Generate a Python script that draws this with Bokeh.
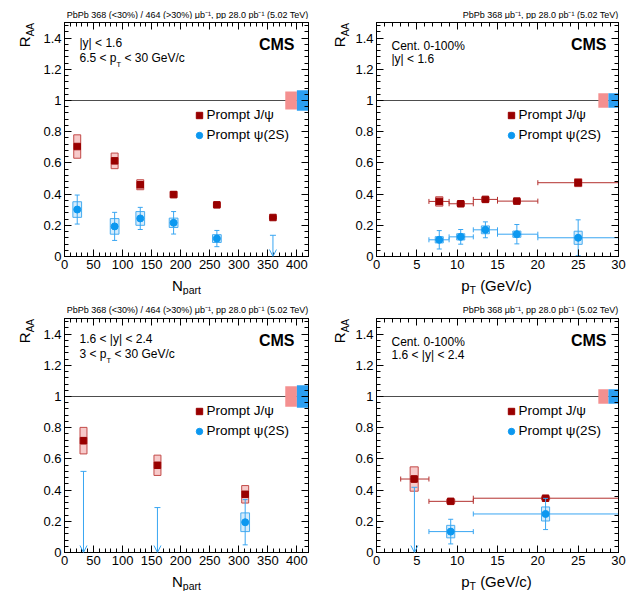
import numpy as np
from bokeh.plotting import figure
from bokeh.layouts import column, row
from bokeh.models import (ColumnDataSource, FixedTicker, LinearAxis, Range1d, Span, Label,
                          Arrow, OpenHead, TeeHead, Legend, LegendItem, CustomJSTickFormatter)
from bokeh.embed import file_html
from bokeh.resources import INLINE

# Nuclear modification factor R_AA of prompt J/psi and psi(2S), PbPb vs pp at 5.02 TeV

# ---- |y| < 1.6, 6.5 < pT < 30 GeV/c, versus Npart ----
mid_npart = [21.9, 86.3, 130.4, 187.8, 262.3, 358.8]
mid_jpsi_raa = [0.705, 0.613, 0.460, 0.397, 0.331, 0.250]
mid_jpsi_stat = [0.012, 0.010, 0.008, 0.006, 0.005, 0.004]
mid_jpsi_syst = [0.075, 0.050, 0.032, 0.020, 0.015, 0.010]
mid_psi_npart = [21.9, 86.3, 130.4, 187.8, 262.3]
mid_psi_raa = [0.301, 0.193, 0.244, 0.216, 0.115]
mid_psi_stat = [0.093, 0.090, 0.071, 0.072, 0.052]
mid_psi_syst = [0.050, 0.050, 0.044, 0.030, 0.025]
mid_psi_ul_npart = [358.8]
mid_psi_ul = [0.136]
mid_global = [0.057, 0.065]          # J/psi, psi(2S)

# ---- Cent. 0-100%, |y| < 1.6, versus pT ----
mid_pt_lo = [6.5, 9.0, 12.0, 15.0, 20.0]
mid_pt_hi = [9.0, 12.0, 15.0, 20.0, 30.0]
mid_pt = [7.78, 10.44, 13.5, 17.4, 25.0]
mid_pt_jpsi_raa = [0.353, 0.338, 0.366, 0.355, 0.473]
mid_pt_jpsi_stat = [0.006, 0.005, 0.005, 0.006, 0.012]
mid_pt_jpsi_syst = [0.030, 0.015, 0.015, 0.012, 0.025]
mid_pt_psi_raa = [0.107, 0.126, 0.171, 0.143, 0.120]
mid_pt_psi_stat = [0.059, 0.047, 0.051, 0.062, 0.115]
mid_pt_psi_syst = [0.020, 0.020, 0.025, 0.020, 0.042]
mid_pt_global = [0.046, 0.046]

# ---- 1.6 < |y| < 2.4, 3 < pT < 30 GeV/c, versus Npart ----
fwd_npart = [32.7, 160.0, 311.0]
fwd_jpsi_raa = [0.717, 0.559, 0.373]
fwd_jpsi_stat = [0.020, 0.018, 0.015]
fwd_jpsi_syst = [0.085, 0.065, 0.056]
fwd_psi_npart = [311.0]
fwd_psi_raa = [0.194]
fwd_psi_stat = [0.145]
fwd_psi_syst = [0.060]
fwd_psi_ul_npart = [32.7, 160.0]
fwd_psi_ul = [0.520, 0.288]
fwd_global = [0.065, 0.072]

# ---- Cent. 0-100%, 1.6 < |y| < 2.4, versus pT ----
fwd_pt_lo = [3.0, 6.5, 12.0]
fwd_pt_hi = [6.5, 12.0, 30.0]
fwd_pt = [4.67, 9.2, 20.96]
fwd_pt_jpsi_raa = [0.471, 0.328, 0.348]
fwd_pt_jpsi_stat = [0.020, 0.008, 0.008]
fwd_pt_jpsi_syst = [0.078, 0.013, 0.010]
fwd_pt_psi_lo = [6.5, 12.0]
fwd_pt_psi_hi = [12.0, 30.0]
fwd_pt_psi = [9.2, 20.96]
fwd_pt_psi_raa = [0.134, 0.247]
fwd_pt_psi_stat = [0.079, 0.100]
fwd_pt_psi_syst = [0.040, 0.045]
fwd_pt_psi_ul_pt = [4.7]
fwd_pt_psi_ul = [0.418]
fwd_pt_global = [0.047, 0.047]

LUMI_CENT = "PbPb 368 (<30%) / 464 (>30%) \u03bcb\u207b\u00b9, pp 28.0 pb\u207b\u00b9 (5.02 TeV)"
LUMI_PT = "PbPb 368 \u03bcb\u207b\u00b9, pp 28.0 pb\u207b\u00b9 (5.02 TeV)"

# ---- style ----
FONT = "Liberation Sans"
JPSI = "#990000"
JPSI_BAR = "#b3302e"
JPSI_BOX_FILL = "#f4b8b8"
JPSI_BOX_LINE = "#c24a48"
PSI = "#0c98f0"
PSI_BAR = "#39a6f2"
PSI_BOX_FILL = "#c7e5fb"
PSI_BOX_LINE = "#47acf0"
GLOB_RED = "#f49090"
GLOB_BLUE = "#2c9ff2"

ARIAL = {' ': 278, '.': 278, '<': 584, '>': 584, '|': 260, 'y': 500, 'p': 556, 'T': 611,
         'N': 722, 'a': 556, 'r': 333, 't': 278, 'R': 722, 'A': 667, '(': 333, ')': 333,
         'G': 778, 'e': 556, 'V': 667, '/': 278, 'c': 500}


def tw(s, size):
    return sum(ARIAL.get(ch, 556) for ch in s) * size / 1000.0


def text(p, x, y, s, size, bold=False, align="left", baseline="alphabetic", angle=0.0):
    p.add_layout(Label(x=x, y=y, x_units="screen", y_units="screen", text=s,
                       text_font=FONT, text_font_size=f"{size}px",
                       text_font_style="bold" if bold else "normal",
                       text_align=align, text_baseline=baseline, angle=angle,
                       text_color="black"))


def run(p, x, y, parts):
    """Draw a sequence of (string, size, dy, gap) pieces one after another."""
    for s, size, dy, gap in parts:
        x += gap
        text(p, x, y + dy, s, size)
        x += tw(s, size)


def strip(w, h, top=0, bottom=0):
    s = figure(width=w, height=h, x_range=Range1d(0, w), y_range=Range1d(0, h - top - bottom),
               output_backend="svg", toolbar_location=None,
               x_axis_location=None, y_axis_location=None,
               min_border_left=0, min_border_right=0, min_border_top=top, min_border_bottom=bottom,
               outline_line_color=None, background_fill_color="white", border_fill_color="white")
    s.grid.visible = False
    return s


Y_MAJOR = [0, 0.2, 0.4, 0.6, 0.8, 1, 1.2, 1.4]
Y_MINOR = [round(v, 3) for v in np.arange(0, 1.5001, 0.04)]


def make_panel(width, height, bl, br, bt, bb, xmax, xmajor, xminor):
    p = figure(width=width, height=height, x_range=Range1d(0, xmax), y_range=Range1d(0, 1.5),
               output_backend="svg", toolbar_location=None,
               min_border_left=bl, min_border_right=br, min_border_top=bt, min_border_bottom=bb,
               background_fill_color="white", border_fill_color="white",
               outline_line_color="black", outline_line_width=1)
    p.grid.visible = False
    bottom, left = p.below[0], p.left[0]
    top, right = LinearAxis(), LinearAxis()
    p.add_layout(top, "above")
    p.add_layout(right, "right")
    fmt = "return String(Math.round(tick*1000)/1000)"
    for ax in (bottom, top):
        ax.ticker = FixedTicker(ticks=xmajor, minor_ticks=xminor)
    for ax in (left, right):
        ax.ticker = FixedTicker(ticks=Y_MAJOR, minor_ticks=Y_MINOR)
    for ax in (bottom, top, left, right):
        ax.formatter = CustomJSTickFormatter(code=fmt)
        ax.axis_line_color = "black"
        ax.major_tick_line_color = "black"
        ax.minor_tick_line_color = "black"
        ax.major_tick_in = 7
        ax.major_tick_out = 0
        ax.minor_tick_in = 4
        ax.minor_tick_out = 0
        ax.major_label_text_font = FONT
        ax.major_label_text_font_size = "13px"
        ax.major_label_text_color = "black"
        ax.major_label_standoff = 3
    for ax in (top, right):
        ax.major_label_text_font_size = "0px"
        ax.major_label_standoff = 0
    p.add_layout(Span(location=1.0, dimension="width", line_color="#4d4d4d",
                      line_width=1, level="underlay"))
    return p


def global_boxes(p, x_edges, unc):
    src = ColumnDataSource(dict(l=x_edges[:-1], r=x_edges[1:],
                                b=[1 - u for u in unc], t=[1 + u for u in unc],
                                c=[GLOB_RED, GLOB_BLUE]))
    p.quad(left="l", right="r", bottom="b", top="t", fill_color="c", line_color=None, source=src)


def series(p, x, y, stat, syst, half, kind, xlo=None, xhi=None):
    if kind == "jpsi":
        mcol, bcol, bfill, bline, marker, msize = JPSI, JPSI_BAR, JPSI_BOX_FILL, JPSI_BOX_LINE, "square", 6.5
    else:
        mcol, bcol, bfill, bline, marker, msize = PSI, PSI_BAR, PSI_BOX_FILL, PSI_BOX_LINE, "circle", 7
    d = dict(x=x, y=y,
             l=[v - half for v in x], r=[v + half for v in x],
             b=[v - s for v, s in zip(y, syst)], t=[v + s for v, s in zip(y, syst)],
             lo=[v - s for v, s in zip(y, stat)], hi=[v + s for v, s in zip(y, stat)])
    if xlo is not None:
        d["xlo"] = xlo
        d["xhi"] = xhi
    src = ColumnDataSource(d)
    p.quad(left="l", right="r", bottom="b", top="t", source=src,
           fill_color=bfill, fill_alpha=0.75, line_color=bline, line_width=1)
    p.segment(x0="x", y0="lo", x1="x", y1="hi", source=src, line_color=bcol, line_width=1)
    p.scatter(x="x", y="lo", marker="dash", size=5, line_color=bcol, source=src)
    p.scatter(x="x", y="hi", marker="dash", size=5, line_color=bcol, source=src)
    if xlo is not None:
        p.segment(x0="xlo", y0="y", x1="xhi", y1="y", source=src, line_color=bcol, line_width=1)
        p.scatter(x="xlo", y="y", marker="dash", angle=np.pi / 2, size=5, line_color=bcol, source=src)
        p.scatter(x="xhi", y="y", marker="dash", angle=np.pi / 2, size=5, line_color=bcol, source=src)
    return p.scatter(x="x", y="y", marker=marker, size=msize, fill_color=mcol, line_color=mcol, source=src)


def upper_limits(p, x, ul):
    src = ColumnDataSource(dict(x=x, ul=ul, zero=[0.0] * len(x)))
    p.add_layout(Arrow(x_start="x", y_start="ul", x_end="x", y_end="zero", source=src,
                       line_color=PSI_BAR, line_width=1,
                       start=TeeHead(size=6, line_color=PSI_BAR, line_width=1),
                       end=OpenHead(size=7, line_color=PSI_BAR, line_width=1)))


def add_legend(p, r1, r2):
    leg = Legend(items=[LegendItem(label="Prompt J/\u03c8", renderers=[r1]),
                        LegendItem(label="Prompt \u03c8(2S)", renderers=[r2])],
                 location=(126.5, 111.3), glyph_width=16, glyph_height=20, label_height=20,
                 label_standoff=0, spacing=0, padding=0, margin=0,
                 border_line_alpha=0, background_fill_alpha=0,
                 label_text_font=FONT, label_text_font_size="13.5px", label_text_color="black")
    p.add_layout(leg)


FW, FH = 244, 234            # frame size of every panel
BT, BB = 3, 20               # top / bottom borders of the plot figures
NP_MAJOR = list(range(0, 401, 50))
NP_MINOR = list(range(0, 421, 10))
PT_MAJOR = list(range(0, 31, 5))
PT_MINOR = list(range(0, 31, 1))
NP_GLOBAL_X = [380, 400, 420]
PT_GLOBAL_X = [27.5, 28.75, 30.0]


def build_panel(pw, ph, top_h, left_w, frame_left, xmax, xmajor, xminor, lumi,
                info1, info2, info_y, xlabel):
    """Panel = title strip / (y-title strip | plot) / x-title strip."""
    main_h = BT + FH + BB
    bottom_h = ph - top_h - main_h
    main_w = pw - left_w
    p = make_panel(main_w, main_h, frame_left - left_w, main_w - (frame_left - left_w) - FW,
                   BT, BB, xmax, xmajor, xminor)

    # inside-frame texts
    text(p, 230, 212, "CMS", 16, bold=True, align="right", baseline="middle")
    text(p, 15, info_y[0], info1, 12)
    if isinstance(info2, tuple):
        a, b = info2
        run(p, 15, info_y[1], [(a, 12, 0, 0), ("T", 7.5, -7, 0), (b, 12, 0, tw(" ", 12))])
    else:
        text(p, 15, info_y[1], info2, 12)

    # luminosity line above the frame, right-aligned with the frame edge
    t = strip(pw, top_h)
    text(t, frame_left + FW, top_h - 14.5, lumi, 9, align="right")

    # R_AA, rotated, ending at the frame top (strip frame matches the plot frame)
    ls = strip(left_w, main_h, top=BT, bottom=BB)
    y_aa = FH - tw("AA", 10) - 0.5
    y_r = y_aa - tw("R", 15)
    text(ls, 32.5, y_r, "R", 15, baseline="bottom", angle=np.pi / 2)
    text(ls, 35.5, y_aa, "AA", 10, baseline="bottom", angle=np.pi / 2)

    # x-axis title with subscript, centred under the frame
    bs = strip(pw, bottom_h)
    a, sub, b = xlabel
    gap = tw(" ", 15) if b else 0
    total = tw(a, 15) + tw(sub, 10.5) + gap + tw(b, 15)
    x0 = frame_left + FW / 2 - total / 2
    run(bs, x0, bottom_h - 9, [(a, 15, 0, 0), (sub, 10.5, -4.5, 0)] + ([(b, 15, 0, gap)] if b else []))

    return p, column(t, row(ls, p), bs)


# top-left: centrality dependence, |y| < 1.6
p1, l1 = build_panel(315, 295, 19, 38, 64, 420, NP_MAJOR, NP_MINOR, LUMI_CENT,
                     "|y| < 1.6", ("6.5 < p", "< 30 GeV/c"), (213.7, 198.7), ("N", "part", ""))
global_boxes(p1, NP_GLOBAL_X, mid_global)
ra = series(p1, mid_npart, mid_jpsi_raa, mid_jpsi_stat, mid_jpsi_syst, 6.0, "jpsi")
rb = series(p1, mid_psi_npart, mid_psi_raa, mid_psi_stat, mid_psi_syst, 7.5, "psi")
upper_limits(p1, mid_psi_ul_npart, mid_psi_ul)
add_legend(p1, ra, rb)

# top-right: pT dependence, |y| < 1.6
p2, l2 = build_panel(316, 295, 19, 37, 59, 30, PT_MAJOR, PT_MINOR, LUMI_PT,
                     "Cent. 0-100%", "|y| < 1.6", (211.0, 198.0), ("p", "T", "(GeV/c)"))
global_boxes(p2, PT_GLOBAL_X, mid_pt_global)
ra = series(p2, mid_pt, mid_pt_jpsi_raa, mid_pt_jpsi_stat, mid_pt_jpsi_syst, 0.45, "jpsi",
            mid_pt_lo, mid_pt_hi)
rb = series(p2, mid_pt, mid_pt_psi_raa, mid_pt_psi_stat, mid_pt_psi_syst, 0.5, "psi",
            mid_pt_lo, mid_pt_hi)
add_legend(p2, ra, rb)

# bottom-left: centrality dependence, 1.6 < |y| < 2.4
p3, l3 = build_panel(315, 296, 20, 38, 64, 420, NP_MAJOR, NP_MINOR, LUMI_CENT,
                     "1.6 < |y| < 2.4", ("3 < p", "< 30 GeV/c"), (213.7, 198.7), ("N", "part", ""))
global_boxes(p3, NP_GLOBAL_X, fwd_global)
ra = series(p3, fwd_npart, fwd_jpsi_raa, fwd_jpsi_stat, fwd_jpsi_syst, 6.0, "jpsi")
rb = series(p3, fwd_psi_npart, fwd_psi_raa, fwd_psi_stat, fwd_psi_syst, 7.5, "psi")
upper_limits(p3, fwd_psi_ul_npart, fwd_psi_ul)
add_legend(p3, ra, rb)

# bottom-right: pT dependence, 1.6 < |y| < 2.4
p4, l4 = build_panel(316, 296, 20, 37, 59, 30, PT_MAJOR, PT_MINOR, LUMI_PT,
                     "Cent. 0-100%", "1.6 < |y| < 2.4", (211.0, 198.0), ("p", "T", "(GeV/c)"))
global_boxes(p4, PT_GLOBAL_X, fwd_pt_global)
ra = series(p4, fwd_pt, fwd_pt_jpsi_raa, fwd_pt_jpsi_stat, fwd_pt_jpsi_syst, 0.5, "jpsi",
            fwd_pt_lo, fwd_pt_hi)
rb = series(p4, fwd_pt_psi, fwd_pt_psi_raa, fwd_pt_psi_stat, fwd_pt_psi_syst, 0.5, "psi",
            fwd_pt_psi_lo, fwd_pt_psi_hi)
upper_limits(p4, fwd_pt_psi_ul_pt, fwd_pt_psi_ul)
add_legend(p4, ra, rb)

page = column(row(l1, l2), row(l3, l4))
open("out.html", "w").write(file_html(page, INLINE))
